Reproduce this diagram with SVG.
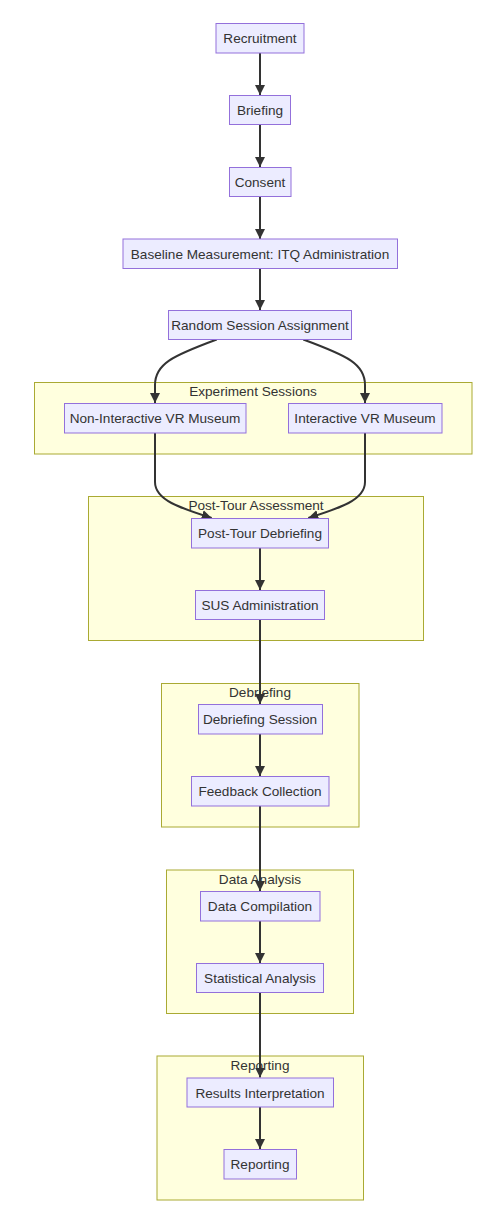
<svg xmlns="http://www.w3.org/2000/svg" width="500" height="1232" viewBox="0 0 500 1232">
<style>
.node rect{fill:#ECECFF;stroke:#9370DB;stroke-width:1}
.cluster rect{fill:#ffffde;stroke:#aaaa33;stroke-width:1}
text{font-family:"Liberation Sans",Arial,sans-serif;font-size:13.6px;fill:#333333;text-anchor:middle}
.edges path{fill:none;stroke:#333333;stroke-width:2;marker-end:url(#arrow)}
</style>
<defs>
<marker id="arrow" viewBox="0 0 10 10" refX="10" refY="5" markerUnits="userSpaceOnUse" markerWidth="10" markerHeight="10" orient="auto">
<path d="M0,0 L10,5 L0,10 z" fill="#333333"/>
</marker>
</defs>
<rect width="500" height="1232" fill="#ffffff"/>
<g id="clusters">
<g id="cluster-experiment" class="cluster"><rect x="34.5" y="382.5" width="437.5" height="71.5"/><text x="253" y="396">Experiment Sessions</text></g>
<g id="cluster-posttour" class="cluster"><rect x="88.5" y="496.5" width="335" height="144"/><text x="256" y="510">Post-Tour Assessment</text></g>
<g id="cluster-debriefing" class="cluster"><rect x="161.5" y="683.5" width="197.5" height="143.5"/><text x="260" y="697">Debriefing</text></g>
<g id="cluster-data" class="cluster"><rect x="166.5" y="870" width="187" height="143.5"/><text x="260" y="883.5">Data Analysis</text></g>
<g id="cluster-reporting" class="cluster"><rect x="157" y="1056" width="206.5" height="144"/><text x="260" y="1070">Reporting</text></g>
</g>
<g id="edges" class="edges">
<path d="M260,53 L260,95"/>
<path d="M260,124.5 L260,167"/>
<path d="M260,196.5 L260,239"/>
<path d="M260,268.5 L260,310"/>
<path d="M216.7,339.5 C172,356 155,364 155,385 L155,403"/>
<path d="M303.3,339.5 C348,356 365,364 365,385 L365,403"/>
<path d="M155,433 L155,482 C155,500 180,508 211.7,518"/>
<path d="M365,433 L365,482 C365,500 340,508 308.3,518"/>
<path d="M260,548 L260,590"/>
<path d="M260,619.5 L260,704"/>
<path d="M260,734 L260,776"/>
<path d="M260,806 L260,891"/>
<path d="M260,921 L260,963"/>
<path d="M260,992.5 L260,1077.5"/>
<path d="M260,1107 L260,1149"/>
</g>
<g id="n-recruitment" class="node"><rect x="216" y="23.5" width="88" height="29.5"/><text x="260" y="43">Recruitment</text></g>
<g id="n-briefing" class="node"><rect x="229.5" y="95.5" width="61" height="29"/><text x="260" y="115">Briefing</text></g>
<g id="n-consent" class="node"><rect x="229.5" y="167.5" width="61.5" height="29"/><text x="260" y="187">Consent</text></g>
<g id="n-baseline" class="node"><rect x="123" y="239" width="274.5" height="29.5"/><text x="260" y="259">Baseline Measurement: ITQ Administration</text></g>
<g id="n-random" class="node"><rect x="168.5" y="310.5" width="183" height="29"/><text x="260" y="330">Random Session Assignment</text></g>
<g id="n-noninteractive" class="node"><rect x="64.5" y="403.5" width="181.5" height="29.5"/><text x="155" y="423">Non-Interactive VR Museum</text></g>
<g id="n-interactive" class="node"><rect x="288.5" y="403.5" width="153.5" height="29.5"/><text x="365" y="423">Interactive VR Museum</text></g>
<g id="n-posttour" class="node"><rect x="191.5" y="518.5" width="137" height="29.5"/><text x="260" y="538">Post-Tour Debriefing</text></g>
<g id="n-sus" class="node"><rect x="195.5" y="590.5" width="129" height="29"/><text x="260" y="610">SUS Administration</text></g>
<g id="n-debriefsession" class="node"><rect x="198.5" y="704.5" width="124" height="29.5"/><text x="260" y="724">Debriefing Session</text></g>
<g id="n-feedback" class="node"><rect x="191.5" y="776.5" width="137.5" height="29.5"/><text x="260" y="796">Feedback Collection</text></g>
<g id="n-datacomp" class="node"><rect x="200.5" y="891.5" width="119.5" height="29.5"/><text x="260" y="911">Data Compilation</text></g>
<g id="n-stats" class="node"><rect x="196.5" y="963.5" width="127" height="29"/><text x="260" y="983">Statistical Analysis</text></g>
<g id="n-results" class="node"><rect x="187" y="1078" width="146.5" height="29"/><text x="260" y="1097.5">Results Interpretation</text></g>
<g id="n-reporting" class="node"><rect x="224" y="1149.5" width="72.5" height="29.5"/><text x="260" y="1169">Reporting</text></g>
</svg>
